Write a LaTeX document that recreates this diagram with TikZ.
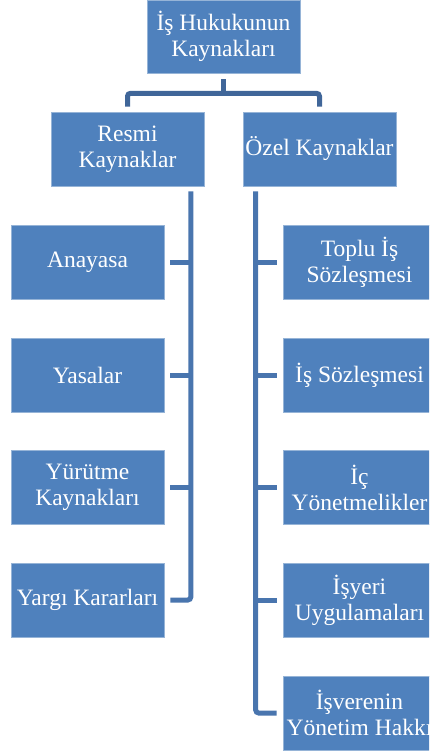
\documentclass[tikz,border=0pt]{standalone}
\usepackage{fontspec}
\setmainfont{Liberation Serif}
\definecolor{boxblue}{RGB}{79,129,189}
\definecolor{boxedge}{RGB}{150,180,215}
\definecolor{topline}{RGB}{64,102,153}
\definecolor{sideline}{RGB}{73,117,174}
\tikzset{
  box/.style={minimum width=153pt, minimum height=74pt, inner sep=0pt,
    fill=boxblue, draw=boxedge, line width=0.6pt, text=white, align=center,
    font=\fontsize{23.5}{26}\selectfont},
  topconn/.style={draw=topline, line width=5pt},
  sideconn/.style={draw=sideline, line width=5pt}
}
\begin{document}
\begin{tikzpicture}[x=1pt,y=-1pt]
\useasboundingbox (0,0) rectangle (429,753);
\clip (0,0) rectangle (429,753);
\node[box, minimum height=73pt] (top) at (223.5,36.5) {İş Hukukunun\\Kaynakları};
\node[box] (resmi) at (127.5,149) {Resmi\\Kaynaklar};
\node[box] (ozel) at (319.5,149) {Özel Kaynaklar};
\node[box] (anayasa) at (87.5,262) {Anayasa};
\node[box] (yasalar) at (87.5,375) {Yasalar};
\node[box] (yurutme) at (87.5,487.5) {Yürütme\\Kaynakları};
\node[box] (yargi) at (87.5,600) {Yargı Kararları};
\node[box] (toplu) at (359.5,262) {Toplu İş\\Sözleşmesi};
\node[box] (issoz) at (359.5,375) {İş Sözleşmesi};
\node[box] (ic) at (359.5,487.5) {İç\\Yönetmelikler};
\node[box] (isyeri) at (359.5,600) {İşyeri\\Uygulamaları};
\node[box] (isveren) at (359.5,713) {İşverenin\\Yönetim Hakkı};
% top connector
\coordinate (tj) at ([yshift=-20pt]top.south);
\draw[topconn] ([yshift=-6pt]top.south) -- (tj);
\draw[topconn, rounded corners=3pt] ([yshift=5pt]resmi.north) |- (tj) -| ([yshift=5pt]ozel.north);
% left branch
\coordinate (lv) at ([xshift=-13.5pt,yshift=-5pt]resmi.south east);
\draw[sideconn, rounded corners=3pt] (lv) |- ([xshift=6pt]yargi.east);
\foreach \n in {anayasa,yasalar,yurutme}
  \draw[sideconn] ([xshift=6pt]\n.east) -- (\n.east -| lv);
% right branch
\coordinate (rv) at ([xshift=13pt,yshift=-5pt]ozel.south west);
\draw[sideconn, rounded corners=3pt] (rv) |- ([xshift=-6pt]isveren.west);
\foreach \n in {toplu,issoz,ic,isyeri}
  \draw[sideconn] ([xshift=-6pt]\n.west) -- (\n.west -| rv);
\end{tikzpicture}
\end{document}
